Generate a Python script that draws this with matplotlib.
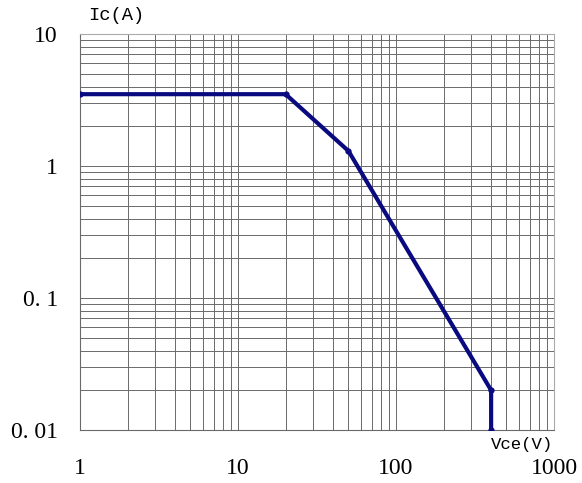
import matplotlib
matplotlib.use('Agg')
import matplotlib.pyplot as plt
from matplotlib.ticker import FixedLocator, LogLocator, NullFormatter

# --- DANE ---
vce = [1, 20, 50, 400, 400]
ic = [3.5, 3.5, 1.3, 0.02, 0.01]

x_ticks = [1, 10, 100, 1000]
x_labels = ["1", "10", "100", "1000"]
y_ticks = [0.01, 0.1, 1, 10]
y_labels = ["0. 01", "0. 1", "1", "10"]

line_color = '#0a0a80'
grid_color = '#6a6a6a'

fig = plt.figure(figsize=(5.82, 4.83), dpi=100)
ax = fig.add_axes([80 / 582, 53 / 483, 474 / 582, 396 / 483])

ax.set_xscale('log')
ax.set_yscale('log')
ax.set_xlim(1, 1000)
ax.set_ylim(0.01, 10)

# siatka (glowne + pomocnicze)
ax.xaxis.set_minor_locator(LogLocator(base=10, subs=range(2, 10)))
ax.yaxis.set_minor_locator(LogLocator(base=10, subs=range(2, 10)))
ax.xaxis.set_minor_formatter(NullFormatter())
ax.yaxis.set_minor_formatter(NullFormatter())
ax.grid(True, which='both', color=grid_color, linewidth=0.7)
ax.set_axisbelow(True)

# krzywa SOA
ax.plot(vce, ic, color=line_color, linewidth=3, solid_capstyle='butt',
        marker='o', markersize=3.5, zorder=5)

ax.xaxis.set_major_locator(FixedLocator(x_ticks))
ax.yaxis.set_major_locator(FixedLocator(y_ticks))
ax.set_xticklabels(x_labels, fontfamily='Liberation Serif', fontsize=17)
ax.set_yticklabels(y_labels, fontfamily='Liberation Serif', fontsize=17)
ax.tick_params(which='both', length=0)
ax.tick_params(axis='x', pad=20)
ax.tick_params(axis='y', pad=16)

for side in ['left', 'bottom']:
    ax.spines[side].set_color(grid_color)
    ax.spines[side].set_linewidth(0.8)
for side in ['top', 'right']:
    ax.spines[side].set_color('#aaaaaa')
    ax.spines[side].set_linewidth(0.8)

# opisy osi
fig.text(88 / 582, 1 - 15 / 483, "Ic(A)", fontfamily='Liberation Mono',
         fontsize=13.5, ha='left', va='center')
fig.text(553 / 582, 1 - 445 / 483, "Vce(V)", fontfamily='Liberation Mono',
         fontsize=12.5, ha='right', va='center')

fig.savefig('out.png', dpi=100)
